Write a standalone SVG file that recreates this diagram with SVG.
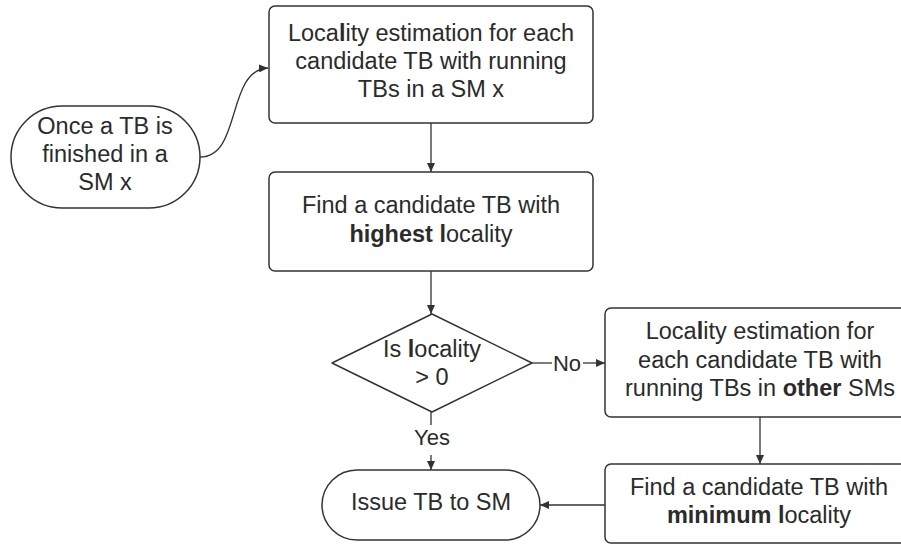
<svg xmlns="http://www.w3.org/2000/svg" width="901" height="545" viewBox="0 0 901 545">
  <defs>
    <marker id="arrow" markerUnits="userSpaceOnUse" markerWidth="10" markerHeight="8" refX="9" refY="4" orient="auto">
      <path d="M0,0 L9,4 L0,8 z" fill="#333333"/>
    </marker>
    <style>
      .shape { fill: #ffffff; stroke: #333333; stroke-width: 1.5; }
      .txt { font-family: "Liberation Sans", Arial, sans-serif; font-size: 23.5px; fill: #2b2b2b; text-anchor: middle; }
      .lbl { font-family: "Liberation Sans", Arial, sans-serif; font-size: 22px; fill: #2b2b2b; text-anchor: middle; }
      .b { font-weight: bold; }
      .edge { fill: none; stroke: #333333; stroke-width: 1.3; }
    </style>
  </defs>

  <rect width="901" height="545" fill="#ffffff"/>

  <!-- connectors -->
  <g id="connectors">
    <path class="edge" d="M200,157 C242,157 226,70 268,68" marker-end="url(#arrow)"/>
    <line class="edge" x1="431" y1="123" x2="431" y2="172" marker-end="url(#arrow)"/>
    <line class="edge" x1="431" y1="271" x2="431" y2="314" marker-end="url(#arrow)"/>
    <line class="edge" x1="532" y1="363" x2="552" y2="363"/>
    <text class="lbl" x="567" y="371">No</text>
    <line class="edge" x1="583" y1="363" x2="605" y2="363" marker-end="url(#arrow)"/>
    <line class="edge" x1="431" y1="412" x2="431" y2="425"/>
    <text class="lbl" x="432" y="445">Yes</text>
    <line class="edge" x1="431" y1="455" x2="431" y2="470" marker-end="url(#arrow)"/>
    <line class="edge" x1="760" y1="417" x2="760" y2="464" marker-end="url(#arrow)"/>
    <line class="edge" x1="605" y1="505" x2="540" y2="505" marker-end="url(#arrow)"/>
  </g>

  <!-- start terminal -->
  <g id="start">
    <rect class="shape" x="11" y="106" width="189" height="102" rx="51" ry="51"/>
    <text class="txt" x="105" y="134">Once a TB is</text>
    <text class="txt" x="105" y="162">finished in a</text>
    <text class="txt" x="105" y="190">SM x</text>
  </g>

  <!-- locality estimation within the SM -->
  <g id="estimate-local">
    <rect class="shape" x="269" y="6" width="324" height="117" rx="6" ry="6"/>
    <text class="txt" x="431" y="41">Loca<tspan class="b">l</tspan>ity estimation for each</text>
    <text class="txt" x="431" y="69">candidate TB with running</text>
    <text class="txt" x="431" y="97">TBs in a SM x</text>
  </g>

  <!-- pick highest locality -->
  <g id="find-highest">
    <rect class="shape" x="269" y="172" width="324" height="99" rx="6" ry="6"/>
    <text class="txt" x="431" y="213">Find a candidate TB with</text>
    <text class="txt" x="431" y="242"><tspan class="b">highest l</tspan>ocality</text>
  </g>

  <!-- decision -->
  <g id="decision">
    <path class="shape" d="M432,314 L532,363 L432,412 L332,363 Z" stroke-linejoin="round"/>
    <text class="txt" x="432" y="357">Is <tspan class="b">l</tspan>ocality</text>
    <text class="txt" x="432" y="385">&gt; 0</text>
  </g>

  <!-- locality estimation across other SMs -->
  <g id="estimate-other">
    <rect class="shape" x="605" y="308" width="310" height="109" rx="6" ry="6"/>
    <text class="txt" x="760" y="339">Loca<tspan class="b">l</tspan>ity estimation for</text>
    <text class="txt" x="760" y="368">each candidate TB with</text>
    <text class="txt" x="760" y="396">running TBs in <tspan class="b">other</tspan> SMs</text>
  </g>

  <!-- pick minimum locality -->
  <g id="find-minimum">
    <rect class="shape" x="605" y="464" width="310" height="79" rx="6" ry="6"/>
    <text class="txt" x="759" y="495">Find a candidate TB with</text>
    <text class="txt" x="759" y="523"><tspan class="b">minimum l</tspan>ocality</text>
  </g>

  <!-- issue terminal -->
  <g id="issue">
    <rect class="shape" x="322" y="470" width="218" height="70" rx="35" ry="35"/>
    <text class="txt" x="431" y="510">Issue TB to SM</text>
  </g>
</svg>
